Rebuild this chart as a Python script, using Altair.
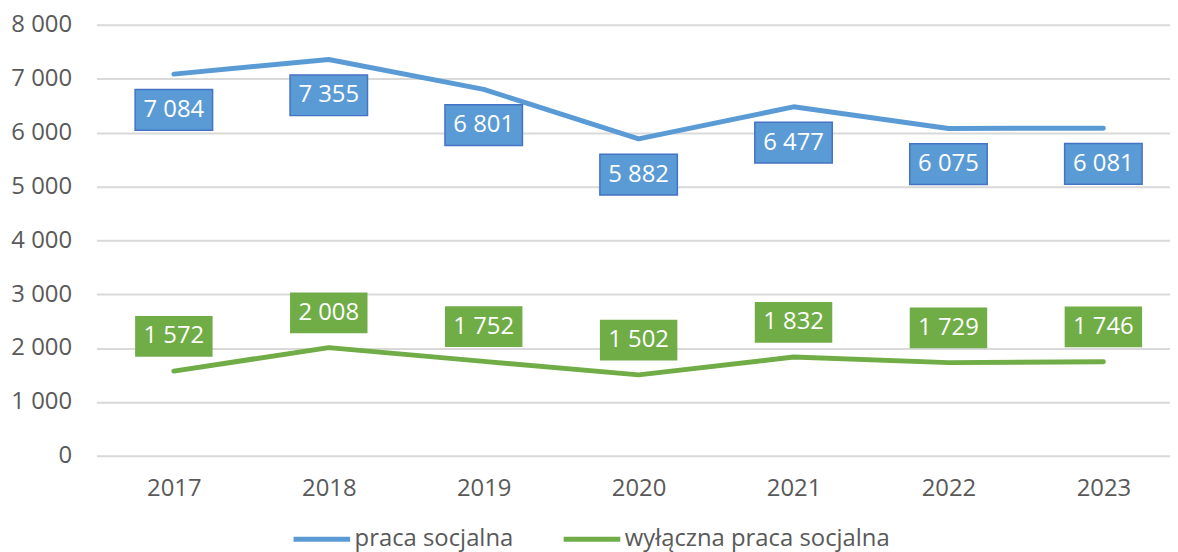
import altair as alt
import pandas as pd

years = [2017, 2018, 2019, 2020, 2021, 2022, 2023]
praca = [7084, 7355, 6801, 5882, 6477, 6075, 6081]
wylaczna = [1572, 2008, 1752, 1502, 1832, 1729, 1746]
series_names = ["praca socjalna", "wyłączna praca socjalna"]
colors = ["#5B9BD5", "#70AD47"]
y_ticks = [0, 1000, 2000, 3000, 4000, 5000, 6000, 7000, 8000]

rows = []
for yr, v in zip(years, praca):
    rows.append({"rok": yr, "wartosc": v, "seria": series_names[0]})
for yr, v in zip(years, wylaczna):
    rows.append({"rok": yr, "wartosc": v, "seria": series_names[1]})
df = pd.DataFrame(rows)

FONT = "Open Sans"
FS = 24

x = alt.X("rok:Q", scale=alt.Scale(domain=[2016.5, 2023.43], nice=False, zero=False),
          axis=alt.Axis(title=None, values=years, format="d", labelFont=FONT, labelFontSize=FS,
                        labelColor="#595959", labelPadding=21, domain=False, ticks=False,
                        grid=False, labelFlush=False, labelOverlap=False))
y = alt.Y("wartosc:Q", scale=alt.Scale(domain=[0, 8000], nice=False),
          axis=alt.Axis(title=None, values=y_ticks, labelFont=FONT, labelFontSize=FS,
                        labelColor="#595959", labelPadding=25, domain=False, ticks=False,
                        gridColor="#D9D9D9", gridWidth=2,
                        labelExpr="replace(format(datum.value, ','), ',', ' ')"))

color = alt.Color("seria:N", scale=alt.Scale(domain=series_names, range=colors),
                  legend=alt.Legend(title=None, orient="none", legendX=196, legendY=487,
                                    direction="horizontal", symbolType="stroke",
                                    symbolSize=3249, symbolStrokeWidth=5,
                                    labelFont=FONT, labelFontSize=FS, labelColor="#595959",
                                    labelOffset=2, columnPadding=40, labelLimit=500))

lines = alt.Chart(df).mark_line(strokeWidth=5, strokeCap="round", strokeJoin="round").encode(
    x=x, y=y, color=color)

blue = alt.Chart(df).transform_filter(alt.datum.seria == series_names[0])
green = alt.Chart(df).transform_filter(alt.datum.seria == series_names[1])

blue_box = blue.mark_rect(width=78, height=41, yOffset=36, fill="#5B9BD5",
                          stroke="#4472C4", strokeWidth=1.5).encode(x=x, y=y)
blue_txt = blue.mark_text(yOffset=36, font=FONT, fontSize=FS, color="white").encode(
    x=x, y=y, text=alt.Text("label:N")).transform_calculate(
    label="replace(format(datum.wartosc, ','), ',', ' ')")

green_box = green.mark_rect(width=78, height=41, yOffset=-35, fill="#70AD47").encode(x=x, y=y)
green_txt = green.mark_text(yOffset=-35, font=FONT, fontSize=FS, color="white").encode(
    x=x, y=y, text=alt.Text("label:N")).transform_calculate(
    label="replace(format(datum.wartosc, ','), ',', ' ')")

chart = alt.layer(lines, blue_box, blue_txt, green_box, green_txt).properties(
    width=1081, height=434,
    autosize=alt.AutoSizeParams(type="none"),
    padding={"left": 89, "top": 15, "right": 0, "bottom": 95},
).configure_view(stroke=None)

chart.save("out.html", embed_options={"renderer": "svg", "actions": False})
